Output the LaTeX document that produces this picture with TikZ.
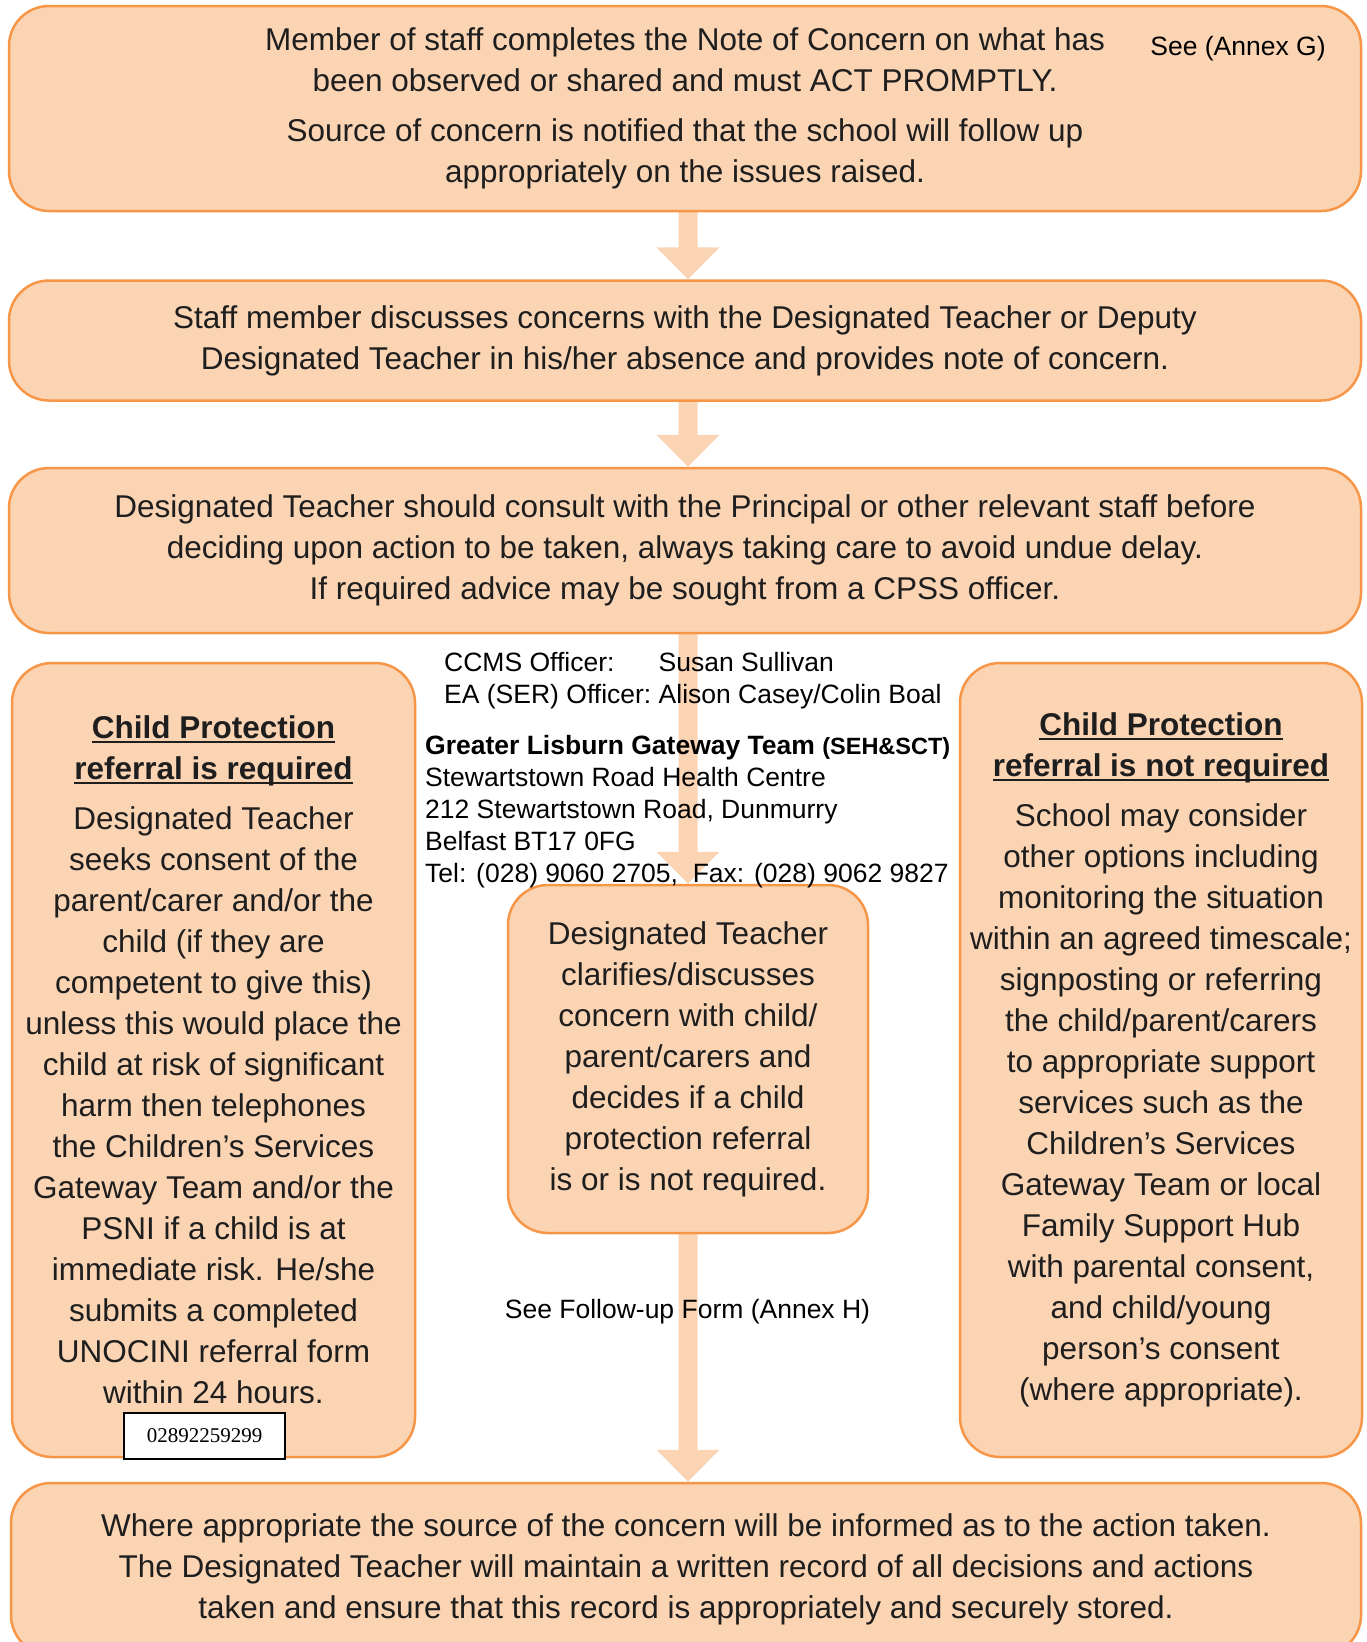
\documentclass[tikz,border=0pt]{standalone}
\usepackage{fontspec}
\setmainfont{Liberation Sans}
\newfontfamily\timesf{Liberation Serif}
\usetikzlibrary{backgrounds,calc}
\definecolor{peach}{HTML}{FBD4B4}
\definecolor{orangeline}{HTML}{F79646}
\definecolor{boxtext}{HTML}{1E1E1E}
\newcommand\myul[1]{\setbox0\hbox{#1}\rlap{\rule[-4.5pt]{\wd0}{2pt}}\box0}
\tikzset{
  flowbox/.style={draw=orangeline, line width=2.5pt, fill=peach, rounded corners=40pt,
    inner sep=0pt, align=center, text=boxtext, font=\fontsize{31.5}{41}\selectfont},
  infotext/.style={inner sep=0pt, text=black, font=\fontsize{26.5}{32}\selectfont},
  blockarrow/.style={fill=peach, draw=none},
  phonebox/.style={draw=black, line width=1.5pt, fill=white, inner sep=0pt,
    font=\timesf\fontsize{21}{25}\selectfont},
}
\newcommand\blockarr[2]{%
  \fill[blockarrow] let \p1=(#1.south -| mid.center), \p2=(#2.north -| mid.center) in
   (\x1-9.5pt,\y1+3pt) -- (\x1+9.5pt,\y1+3pt) -- (\x1+9.5pt,\y2+32pt) -- (\x1+31.5pt,\y2+32pt)
   -- (\x1,\y2) -- (\x1-31.5pt,\y2+32pt) -- (\x1-9.5pt,\y2+32pt) -- cycle;}
\begin{document}
\begin{tikzpicture}[x=1pt,y=-1pt]
\clip (0,0) rectangle (1367,1642);

\node[flowbox, minimum width=1352pt, minimum height=205pt] (b1) at (685,108.5)
 {Member of staff completes the Note of Concern on what has\\
  been observed or shared and must ACT PROMPTLY.\\[9pt]
  Source of concern is notified that the school will follow up\\
  appropriately on the issues raised.};
\node[infotext] (annexg) at (1238,49) {See (Annex G)};

\node[flowbox, minimum width=1352pt, minimum height=120pt] (b2) at (685,340.5)
 {Staff member discusses concerns with the Designated Teacher or Deputy\\
  Designated Teacher in his/her absence and provides note of concern.};

\node[flowbox, minimum width=1352pt, minimum height=165pt] (b3) at (685,550.5)
 {Designated Teacher should consult with the Principal or other relevant staff before\\
  deciding upon action to be taken, always taking care to avoid undue delay.\\
  If required advice may be sought from a CPSS officer.};

\node[flowbox, minimum width=403pt, minimum height=794pt] (left) at (213.5,1060)
 {\textbf{\myul{Child Protection}}\\
  \textbf{\myul{referral is required}}\\[9pt]
  Designated Teacher\\
  seeks consent of the\\
  parent/carer and/or the\\
  child (if they are\\
  competent to give this)\\
  unless this would place the\\
  child at risk of significant\\
  harm then telephones\\
  the Children’s Services\\
  Gateway Team and/or the\\
  PSNI if a child is at\\
  immediate risk. He/she\\
  submits a completed\\
  UNOCINI referral form\\
  within 24 hours.};

\node[flowbox, minimum width=402pt, minimum height=794pt] (right) at (1161,1060)
 {\textbf{\myul{Child Protection}}\\
  \textbf{\myul{referral is not required}}\\[9pt]
  School may consider\\
  other options including\\
  monitoring the situation\\
  within an agreed timescale;\\
  signposting or referring\\
  the child/parent/carers\\
  to appropriate support\\
  services such as the\\
  Children’s Services\\
  Gateway Team or local\\
  Family Support Hub\\
  with parental consent,\\
  and child/young\\
  person’s consent\\
  (where appropriate).};

\node[flowbox, minimum width=360pt, minimum height=348pt] (mid) at (688,1059)
 {Designated Teacher\\
  clarifies/discusses\\
  concern with child/\\
  parent/carers and\\
  decides if a child\\
  protection referral\\
  is or is not required.};

\node[flowbox, minimum width=1350pt, minimum height=172pt] (b4) at (686,1569)
 {Where appropriate the source of the concern will be informed as to the action taken.\\
  The Designated Teacher will maintain a written record of all decisions and actions\\
  taken and ensure that this record is appropriately and securely stored.};

\node[phonebox, minimum width=161pt, minimum height=46pt] (phone) at (204.5,1436) {02892259299};

\node[infotext, anchor=north west] (officers) at (444,648.5)
 {\begin{tabular}{@{}l@{\ }l@{}}CCMS Officer: & Susan Sullivan\\
  EA (SER) Officer: & Alison Casey/Colin Boal\end{tabular}};

\node[infotext, anchor=north west] (gateway) at (425,732)
 {\begin{tabular}{@{}l@{}}\textbf{Greater Lisburn Gateway Team {\fontsize{23.5}{32}\selectfont(SEH\&SCT)}}\\
  Stewartstown Road Health Centre\\
  212 Stewartstown Road, Dunmurry\\
  Belfast BT17 0FG\\
  Tel: (028) 9060 2705,\ \ Fax: (028) 9062 9827\end{tabular}};

\node[infotext] (annexh) at (687.5,1312) {See Follow-up Form (Annex H)};

\begin{scope}[on background layer]
  \fill[white] (0,0) rectangle (1367,1642);
  \blockarr{b1}{b2}
  \blockarr{b2}{b3}
  \blockarr{b3}{mid}
  \blockarr{mid}{b4}
\end{scope}
\end{tikzpicture}
\end{document}
